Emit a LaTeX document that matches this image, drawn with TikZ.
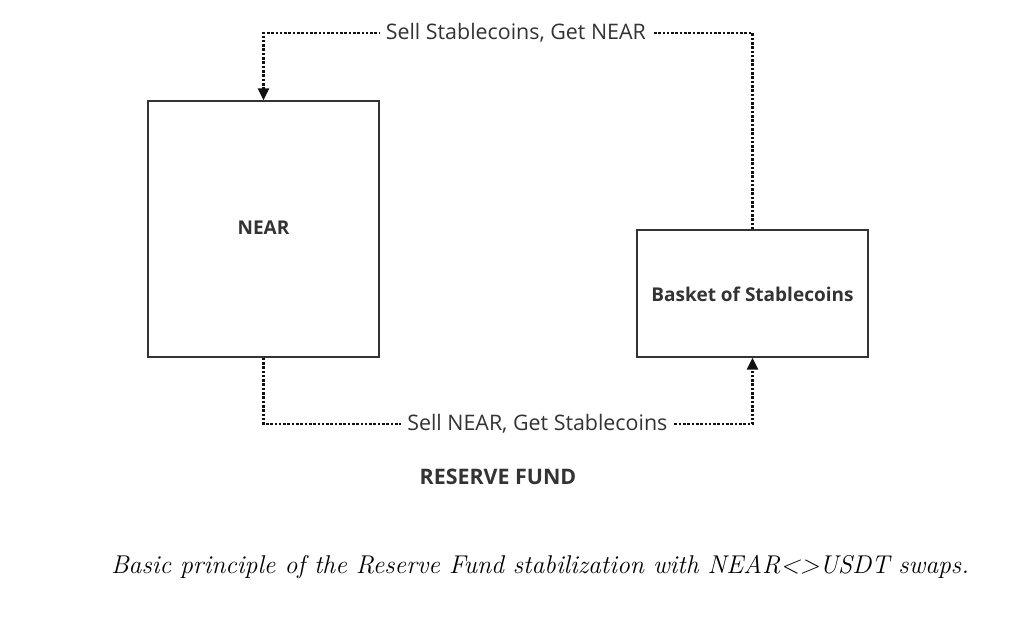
\documentclass[tikz,border=0pt]{standalone}
\usepackage{fontspec}
\newfontfamily\opensans{Open Sans}
\usetikzlibrary{arrows.meta}
\definecolor{ink}{HTML}{333333}
\definecolor{dotink}{HTML}{111111}

\begin{document}
\begin{tikzpicture}[
  x=1pt, y=-1pt,
  box/.style={draw=ink, line width=1.2pt, minimum width=231pt, inner sep=0pt},
  boxlbl/.style={text=ink, font=\opensans\bfseries\fontsize{19}{22}\selectfont},
  flow/.style={draw=dotink, line width=2.6pt, dash pattern=on 2.6pt off 1.7pt},
  tip/.style={-{Triangle[length=12pt,width=11pt]}},
  lbl/.style={fill=white, inner sep=6pt, text=ink,
    font=\opensans\fontsize{21.4}{25}\selectfont}
]
\useasboundingbox (0,0) rectangle (1018,624);

\node[box, minimum height=256pt] (near) at (263.5,229) {};
\node[boxlbl] (nearlbl) at (263.5,228) {NEAR};
\node[box, minimum height=127pt] (basket) at (752.5,293.5) {};
\node[boxlbl] (basketlbl) at (752.5,294) {Basket of Stablecoins};

\coordinate (topL) at (263.5,33);
\coordinate (topR) at (752.5,33);
\coordinate (botL) at (263.5,424);
\coordinate (botR) at (752.5,424);

\draw[flow, tip] (basket.north) -- (topR)
  -- node[lbl, pos=0.484] (sellstable) {Sell Stablecoins, Get NEAR} (topL) -- (near.north);
\draw[flow, tip] (near.south) -- (botL)
  -- node[lbl, pos=0.56] (sellnear) {Sell NEAR, Get Stablecoins} (botR) -- (basket.south);

\node[text=ink, font=\opensans\bfseries\fontsize{21.4}{25}\selectfont] (fund) at (498,477) {RESERVE FUND};

\node[font=\itshape\fontsize{25.7}{30}\selectfont] (caption) at (540,567)
  {Basic principle of the Reserve Fund stabilization with NEAR<>USDT swaps.};
\end{tikzpicture}
\end{document}
